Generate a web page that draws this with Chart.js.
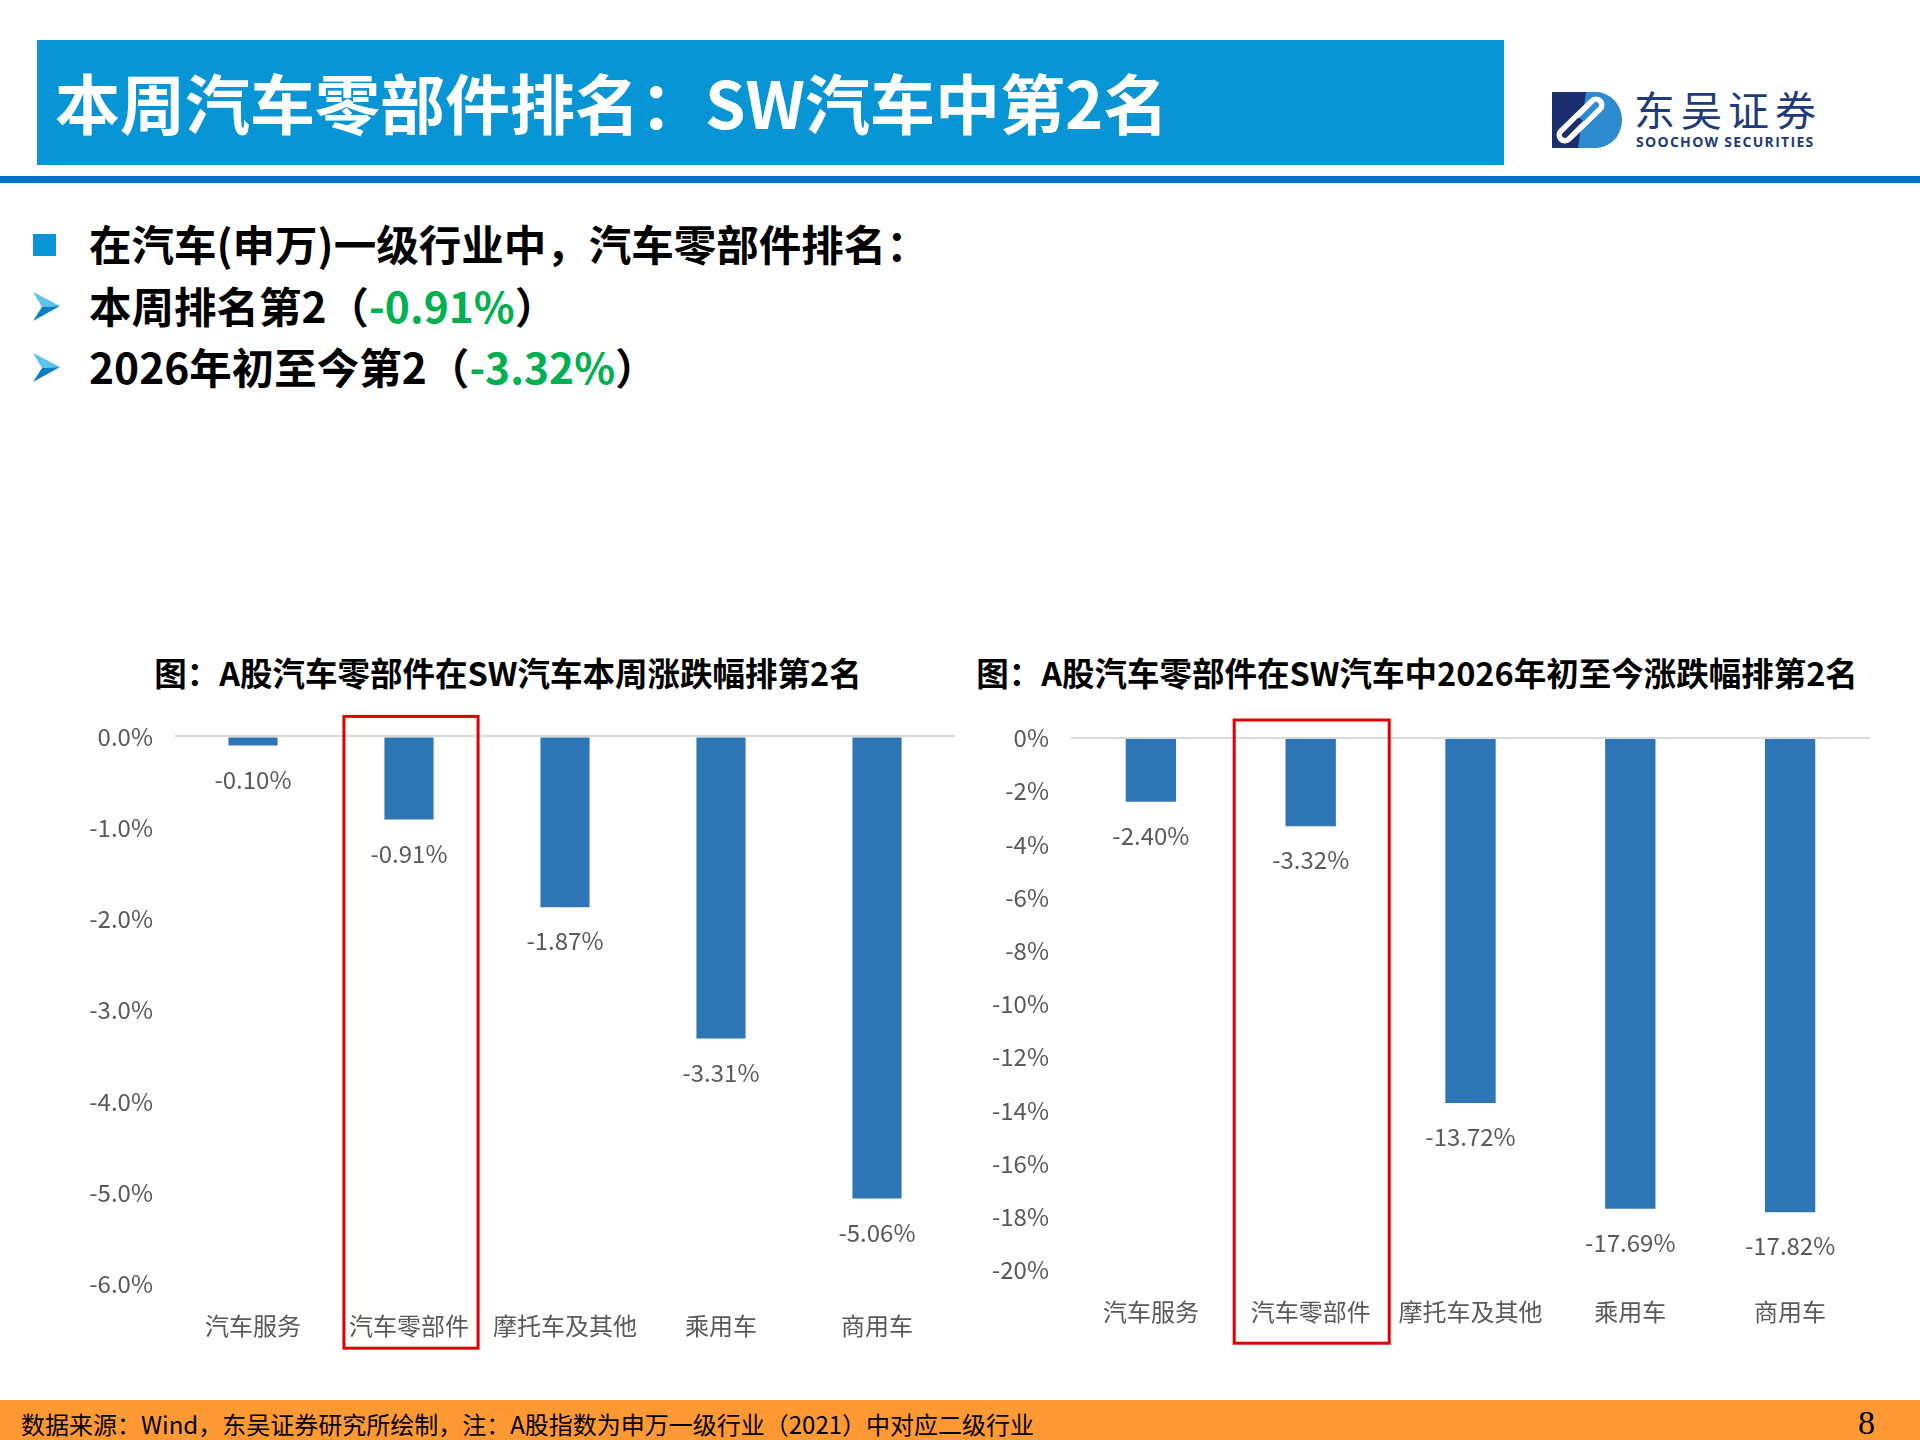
<!DOCTYPE html>
<html>
<head>
<meta charset="utf-8">
<script src="https://cdn.jsdelivr.net/npm/chart.js@4.4.1/dist/chart.umd.min.js"></script>
<style>
  html, body { margin: 0; padding: 0; }
  body { width: 1920px; height: 1440px; position: relative; background: #fff; overflow: hidden;
         font-family: "Noto Sans CJK SC", "Noto Sans", sans-serif; }
  .abs { position: absolute; white-space: nowrap; }
  .banner { left: 37px; top: 40px; width: 1467px; height: 125px; background: #0795D5; }
  .htitle { left: 55px; top: 69px; font-size: 65px; line-height: 65px; font-weight: 700; color: #fff; }
  .hline { left: 0; top: 176px; width: 1920px; height: 7px; background: #0070C0; }
  .bullet { left: 89px; font-size: 42.5px; line-height: 42px; font-weight: 700; color: #000; }
  .green { color: #00B050; }
  .mark { left: 33px; width: 23px; height: 22px; background: #0795D5; }
  .ctitle { font-size: 32.5px; line-height: 32px; font-weight: 700; color: #000; transform: translateX(-50%); }
  .box { position: absolute; }
  .footer { left: 0; top: 1400px; width: 1920px; height: 40px; background: #FF9933; }
  .ftext { left: 21px; top: 1411px; font-size: 24px; line-height: 26px; color: #000; }
  .pnum { left: 1858px; top: 1406px; font-family: "Liberation Serif"; font-size: 34px; line-height: 34px; color: #000; }
</style>
</head>
<body>
<div class="abs banner"></div>
<div class="abs htitle">本周汽车零部件排名：SW汽车中第2名</div>
<div class="abs hline"></div>

<svg class="abs" style="left:1552px;top:92px" width="72" height="56" viewBox="0 0 72 56">
  <rect x="0" y="0" width="46" height="56" fill="#1B2F6E"/>
  <path d="M34,0 H44 A26,28 0 0 1 44,56 H26 Z" fill="#2E8BD0"/>
  <path d="M13,43 L44,13" stroke="#fff" stroke-width="17" stroke-linecap="round"/>
  <path d="M30,27 L44,13" stroke="#2E8BD0" stroke-width="6" stroke-linecap="round"/>
  <path d="M13,43 L27,29" stroke="#1B2F6E" stroke-width="6" stroke-linecap="round"/>
</svg>
<div class="abs" style="left:1634px;top:86px;font-size:41px;line-height:44px;color:#1F3A7A;letter-spacing:6px;">东吴证券</div>
<div class="abs" style="left:1636px;top:134px;font-family:'Open Sans';font-size:14px;line-height:16px;font-weight:700;color:#1F3A7A;letter-spacing:1.3px;">SOOCHOW SECURITIES</div>

<div class="abs mark" style="top:234px"></div>
<div class="abs bullet" style="top:222px">在汽车(申万)一级行业中，汽车零部件排名：</div>
<svg class="abs" style="left:33px;top:292px" width="28" height="30" viewBox="0 0 28 30">
  <polygon points="0,0 27,14 9,15" fill="#5CC3EE"/>
  <polygon points="9,15 27,14 0,29" fill="#0A7FC4"/>
</svg>
<div class="abs bullet" style="top:284px">本周排名第2（<span class="green">-0.91%</span>）</div>
<svg class="abs" style="left:33px;top:353px" width="28" height="30" viewBox="0 0 28 30">
  <polygon points="0,0 27,14 9,15" fill="#5CC3EE"/>
  <polygon points="9,15 27,14 0,29" fill="#0A7FC4"/>
</svg>
<div class="abs bullet" style="top:345px">2026年初至今第2（<span class="green">-3.32%</span>）</div>

<div class="abs ctitle" style="left:508px;top:656px">图：A股汽车零部件在SW汽车本周涨跌幅排第2名</div>
<div class="abs ctitle" style="left:1417px;top:656px">图：A股汽车零部件在SW汽车中2026年初至今涨跌幅排第2名</div>

<div class="box" style="left:40px;top:700px;width:930px;height:688px;"><canvas id="weekChart"></canvas></div>
<div class="box" style="left:980px;top:700px;width:900px;height:688px;"><canvas id="ytdChart"></canvas></div>

<div class="abs footer"></div>
<div class="abs ftext">数据来源：Wind，东吴证券研究所绘制，注：A股指数为申万一级行业（2021）中对应二级行业</div>
<div class="abs pnum">8</div>

<script>
const categories = ['汽车服务', '汽车零部件', '摩托车及其他', '乘用车', '商用车'];
const weekValues = [-0.10, -0.91, -1.87, -3.31, -5.06];
const ytdValues = [-2.40, -3.32, -13.72, -17.69, -17.82];
const highlightIndex = 1;

const cjkFont = '"Noto Sans CJK SC", "Noto Sans", sans-serif';
const gray = '#595959';

// value labels under the end of each bar
const valueLabels = {
    id: 'valueLabels',
    afterDatasetsDraw(chart) {
        const ctx = chart.ctx;
        const meta = chart.getDatasetMeta(0);
        const data = chart.data.datasets[0].data;
        ctx.save();
        ctx.font = '24px ' + cjkFont;
        ctx.fillStyle = gray;
        ctx.textAlign = 'center';
        ctx.textBaseline = 'middle';
        meta.data.forEach(function(bar, i) {
            ctx.fillText(data[i].toFixed(2) + '%', bar.x, bar.y + 34);
        });
        ctx.restore();
    }
};

// red frame round the highlighted category
const highlightBox = {
    id: 'highlightBox',
    afterDraw(chart, args, opts) {
        const x = chart.scales.x;
        const area = chart.chartArea;
        const step = x.getPixelForValue(1) - x.getPixelForValue(0);
        const cx = x.getPixelForValue(highlightIndex) + opts.shift;
        const w = step * opts.frac;
        const ctx = chart.ctx;
        ctx.save();
        ctx.strokeStyle = '#E00000';
        ctx.lineWidth = 3;
        ctx.strokeRect(cx - w / 2, area.top - opts.above, w, area.bottom - area.top + opts.above + opts.below);
        ctx.restore();
    }
};

function makeChart(id, values, min, step, fmt, axisWidth, pad, box) {
    return new Chart(document.getElementById(id), {
        type: 'bar',
        data: {
            labels: categories,
            datasets: [{
                data: values,
                backgroundColor: '#2E75B6',
                barPercentage: 0.315,
                categoryPercentage: 1
            }]
        },
        options: {
            responsive: true,
            maintainAspectRatio: false,
            animation: false,
            layout: { padding: pad },
            plugins: {
                legend: { display: false },
                tooltip: { enabled: false },
                highlightBox: box
            },
            scales: {
                x: {
                    grid: { display: false, drawTicks: false },
                    border: { display: false },
                    ticks: { color: gray, padding: 27, font: { family: cjkFont, size: 24 } }
                },
                y: {
                    min: min,
                    max: 0,
                    afterFit: function(scale) { scale.width = axisWidth; },
                    border: { display: false },
                    grid: {
                        drawTicks: false,
                        lineWidth: 2,
                        color: function(c) { return c.tick && c.tick.value === 0 ? '#D9D9D9' : 'rgba(0,0,0,0)'; }
                    },
                    ticks: {
                        stepSize: step,
                        padding: 22,
                        color: gray,
                        font: { family: cjkFont, size: 24 },
                        callback: fmt
                    }
                }
            }
        },
        plugins: [valueLabels, highlightBox]
    });
}

makeChart('weekChart', weekValues, -6, 1,
    function(v) { return v.toFixed(1) + '%'; },
    135, { top: 35, right: 15, bottom: 21, left: 0 },
    { frac: 0.86, shift: 2, above: 20, below: 64 });

makeChart('ytdChart', ytdValues, -20, 2,
    function(v) { return v + '%'; },
    91, { top: 38, right: 10, bottom: 35, left: 0 },
    { frac: 0.97, shift: 1, above: 18, below: 73 });
</script>
</body>
</html>
